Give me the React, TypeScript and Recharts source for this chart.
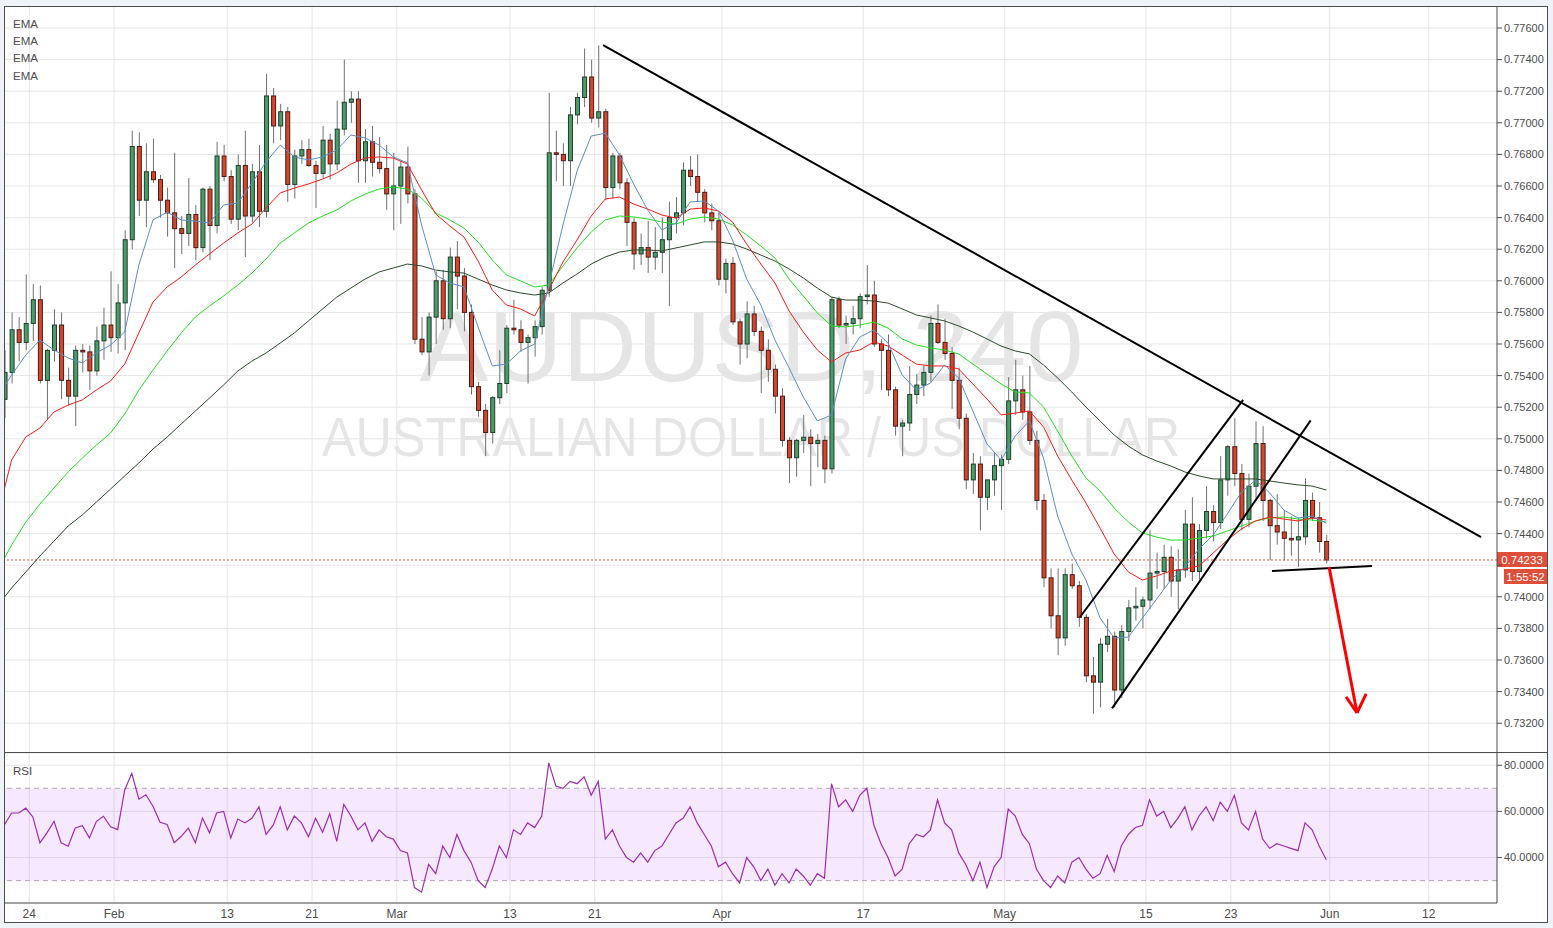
import React from 'react';
import { ComposedChart, Bar, Line, XAxis, YAxis, CartesianGrid, ReferenceLine, ReferenceArea } from 'recharts';

const FONT = '"Liberation Sans", Arial, Helvetica, sans-serif';

// 12h candles [open, high, low, close]; time in trading days from Jan 24
const firstCandleDay = -1.75;
const candleStep = 0.5;

const candlesJan: number[][] = [
  [0.7525, 0.7556, 0.7513, 0.7542], [0.7542, 0.7580, 0.7535, 0.7569], [0.7569, 0.7577, 0.7549, 0.7561], [0.7561, 0.7604, 0.7556, 0.7573],
  [0.7573, 0.7598, 0.7562, 0.7588], [0.7588, 0.7597, 0.7535, 0.7537], [0.7537, 0.7557, 0.7512, 0.7556], [0.7556, 0.7582, 0.7549, 0.7572],
  [0.7572, 0.7580, 0.7525, 0.7537], [0.7537, 0.7545, 0.7521, 0.7527], [0.7527, 0.7559, 0.7508, 0.7556], [0.7556, 0.7560, 0.7542, 0.7555],
  [0.7555, 0.7559, 0.7531, 0.7543], [0.7543, 0.7571, 0.7540, 0.7562], [0.7562, 0.7583, 0.7550, 0.7572], [0.7572, 0.7606, 0.7555, 0.7564],
];
const candlesFeb: number[][] = [
  [0.7564, 0.7598, 0.7554, 0.7586], [0.7586, 0.7632, 0.7556, 0.7626], [0.7626, 0.7695, 0.7620, 0.7685], [0.7685, 0.7694, 0.7641, 0.7651],
  [0.7651, 0.7687, 0.7634, 0.7669], [0.7669, 0.7690, 0.7662, 0.7664], [0.7664, 0.7667, 0.7640, 0.7651], [0.7651, 0.7659, 0.7628, 0.7643],
  [0.7643, 0.7681, 0.7608, 0.7633], [0.7633, 0.7641, 0.7617, 0.7630], [0.7630, 0.7665, 0.7622, 0.7642], [0.7642, 0.7648, 0.7613, 0.7621],
  [0.7621, 0.7659, 0.7618, 0.7658], [0.7658, 0.7660, 0.7613, 0.7635], [0.7635, 0.7688, 0.7630, 0.7679], [0.7679, 0.7686, 0.7663, 0.7666],
  [0.7666, 0.7670, 0.7636, 0.7639], [0.7639, 0.7680, 0.7632, 0.7673], [0.7673, 0.7695, 0.7615, 0.7641], [0.7641, 0.7674, 0.7637, 0.7669],
  [0.7669, 0.7686, 0.7634, 0.7644], [0.7644, 0.7731, 0.7640, 0.7717], [0.7717, 0.7722, 0.7687, 0.7698], [0.7698, 0.7712, 0.7689, 0.7707],
  [0.7707, 0.7710, 0.7650, 0.7661], [0.7661, 0.7683, 0.7652, 0.7679], [0.7679, 0.7689, 0.7674, 0.7683], [0.7683, 0.7690, 0.7672, 0.7673],
  [0.7673, 0.7676, 0.7646, 0.7668], [0.7668, 0.7698, 0.7665, 0.7689], [0.7689, 0.7693, 0.7664, 0.7674], [0.7674, 0.7714, 0.7670, 0.7696],
  [0.7696, 0.7740, 0.7692, 0.7713], [0.7713, 0.7720, 0.7700, 0.7715], [0.7715, 0.7720, 0.7662, 0.7676], [0.7676, 0.7696, 0.7662, 0.7688],
  [0.7688, 0.7698, 0.7666, 0.7675], [0.7675, 0.7691, 0.7668, 0.7671], [0.7671, 0.7686, 0.7645, 0.7655], [0.7655, 0.7681, 0.7632, 0.7660],
];
const candlesMar: number[][] = [
  [0.7660, 0.7676, 0.7636, 0.7672], [0.7672, 0.7685, 0.7649, 0.7655], [0.7655, 0.7658, 0.7560, 0.7563], [0.7563, 0.7577, 0.7553, 0.7555],
  [0.7555, 0.7580, 0.7540, 0.7577], [0.7577, 0.7606, 0.7560, 0.7600], [0.7600, 0.7607, 0.7569, 0.7576], [0.7576, 0.7621, 0.7570, 0.7615],
  [0.7615, 0.7625, 0.7582, 0.7603], [0.7603, 0.7608, 0.7568, 0.7580], [0.7580, 0.7585, 0.7528, 0.7533], [0.7533, 0.7536, 0.7514, 0.7518],
  [0.7518, 0.7522, 0.7489, 0.7504], [0.7504, 0.7527, 0.7497, 0.7526], [0.7526, 0.7556, 0.7522, 0.7535], [0.7535, 0.7572, 0.7529, 0.7570],
  [0.7570, 0.7588, 0.7566, 0.7569], [0.7569, 0.7575, 0.7555, 0.7561], [0.7561, 0.7566, 0.7535, 0.7564], [0.7564, 0.7575, 0.7552, 0.7571],
  [0.7571, 0.7596, 0.7566, 0.7594], [0.7594, 0.7719, 0.7590, 0.7681], [0.7681, 0.7695, 0.7663, 0.7680], [0.7680, 0.7687, 0.7660, 0.7676],
  [0.7676, 0.7710, 0.7660, 0.7705], [0.7705, 0.7719, 0.7699, 0.7716], [0.7716, 0.7747, 0.7710, 0.7729], [0.7729, 0.7740, 0.7700, 0.7703],
  [0.7703, 0.7749, 0.7697, 0.7707], [0.7707, 0.7709, 0.7651, 0.7659], [0.7659, 0.7681, 0.7652, 0.7679], [0.7679, 0.7681, 0.7658, 0.7662],
  [0.7662, 0.7665, 0.7622, 0.7637], [0.7637, 0.7640, 0.7607, 0.7617], [0.7617, 0.7630, 0.7610, 0.7621], [0.7621, 0.7638, 0.7605, 0.7615],
  [0.7615, 0.7634, 0.7607, 0.7618], [0.7618, 0.7640, 0.7605, 0.7626], [0.7626, 0.7650, 0.7584, 0.7640], [0.7640, 0.7653, 0.7630, 0.7643],
  [0.7643, 0.7675, 0.7635, 0.7670], [0.7670, 0.7679, 0.7660, 0.7666], [0.7666, 0.7680, 0.7650, 0.7656], [0.7656, 0.7658, 0.7637, 0.7643],
  [0.7643, 0.7649, 0.7632, 0.7638], [0.7638, 0.7643, 0.7597, 0.7601],
];
const candlesApr: number[][] = [
  [0.7601, 0.7614, 0.7592, 0.7611], [0.7611, 0.7615, 0.7572, 0.7574], [0.7574, 0.7576, 0.7547, 0.7560], [0.7560, 0.7587, 0.7551, 0.7579],
  [0.7579, 0.7584, 0.7565, 0.7568], [0.7568, 0.7571, 0.7529, 0.7556], [0.7556, 0.7563, 0.7536, 0.7544], [0.7544, 0.7547, 0.7516, 0.7527],
  [0.7527, 0.7532, 0.7495, 0.7499], [0.7499, 0.7501, 0.7472, 0.7488], [0.7488, 0.7500, 0.7476, 0.7499], [0.7499, 0.7515, 0.7491, 0.7501],
  [0.7501, 0.7506, 0.7470, 0.7497], [0.7497, 0.7503, 0.7482, 0.7499], [0.7499, 0.7502, 0.7472, 0.7481], [0.7481, 0.7590, 0.7478, 0.7588],
  [0.7588, 0.7590, 0.7570, 0.7572], [0.7572, 0.7578, 0.7560, 0.7573], [0.7573, 0.7584, 0.7566, 0.7576], [0.7576, 0.7592, 0.7570, 0.7590],
  [0.7590, 0.7610, 0.7585, 0.7591], [0.7591, 0.7600, 0.7558, 0.7560], [0.7560, 0.7563, 0.7531, 0.7556], [0.7556, 0.7566, 0.7527, 0.7531],
  [0.7531, 0.7533, 0.7502, 0.7508], [0.7508, 0.7512, 0.7489, 0.7510], [0.7510, 0.7546, 0.7505, 0.7528], [0.7528, 0.7541, 0.7522, 0.7534],
  [0.7534, 0.7546, 0.7527, 0.7542], [0.7542, 0.7578, 0.7536, 0.7573], [0.7573, 0.7585, 0.7560, 0.7561], [0.7561, 0.7576, 0.7550, 0.7554],
  [0.7554, 0.7558, 0.7519, 0.7537], [0.7537, 0.7545, 0.7506, 0.7513], [0.7513, 0.7516, 0.7468, 0.7474], [0.7474, 0.7491, 0.7465, 0.7484],
  [0.7484, 0.7489, 0.7442, 0.7463], [0.7463, 0.7473, 0.7455, 0.7474], [0.7474, 0.7491, 0.7464, 0.7483], [0.7483, 0.7490, 0.7455, 0.7487],
];
const candlesMay: number[][] = [
  [0.7487, 0.7539, 0.7484, 0.7524], [0.7524, 0.7550, 0.7515, 0.7531], [0.7531, 0.7540, 0.7512, 0.7517], [0.7517, 0.7546, 0.7496, 0.7499],
  [0.7499, 0.7505, 0.7455, 0.7461], [0.7461, 0.7465, 0.7406, 0.7412], [0.7412, 0.7418, 0.7380, 0.7388], [0.7388, 0.7418, 0.7363, 0.7374],
  [0.7374, 0.7418, 0.7369, 0.7414], [0.7414, 0.7421, 0.7405, 0.7407], [0.7407, 0.7410, 0.7381, 0.7387], [0.7387, 0.7389, 0.7346, 0.7350],
  [0.7350, 0.7362, 0.7326, 0.7346], [0.7346, 0.7374, 0.7330, 0.7370], [0.7370, 0.7386, 0.7365, 0.7375], [0.7375, 0.7378, 0.7330, 0.7341],
  [0.7341, 0.7382, 0.7336, 0.7378], [0.7378, 0.7398, 0.7372, 0.7393], [0.7393, 0.7406, 0.7385, 0.7394], [0.7394, 0.7400, 0.7380, 0.7398],
  [0.7398, 0.7442, 0.7392, 0.7415], [0.7415, 0.7428, 0.7405, 0.7416], [0.7416, 0.7433, 0.7405, 0.7425], [0.7425, 0.7432, 0.7400, 0.7410],
  [0.7410, 0.7430, 0.7392, 0.7417], [0.7417, 0.7455, 0.7412, 0.7446], [0.7446, 0.7463, 0.7410, 0.7416], [0.7416, 0.7446, 0.7411, 0.7442],
  [0.7442, 0.7470, 0.7437, 0.7454], [0.7454, 0.7458, 0.7435, 0.7447], [0.7447, 0.7489, 0.7443, 0.7474], [0.7474, 0.7496, 0.7464, 0.7495],
  [0.7495, 0.7513, 0.7470, 0.7478], [0.7478, 0.7484, 0.7442, 0.7449], [0.7449, 0.7478, 0.7444, 0.7470], [0.7470, 0.7511, 0.7462, 0.7497],
  [0.7497, 0.7508, 0.7448, 0.7461], [0.7461, 0.7462, 0.7423, 0.7445], [0.7445, 0.7465, 0.7433, 0.7441], [0.7441, 0.7455, 0.7423, 0.7437],
  [0.7437, 0.7451, 0.7426, 0.7436], [0.7436, 0.7450, 0.7419, 0.7438], [0.7438, 0.7475, 0.7433, 0.7461], [0.7461, 0.7466, 0.7448, 0.7450],
  [0.7450, 0.7460, 0.7428, 0.7435], [0.7435, 0.7439, 0.7421, 0.74233],
];

// RSI per candle
const rsiJan = [54.3, 59.3, 59.3, 61.4, 57.6, 46.4, 50.7, 55.7, 46.4, 44.9, 52.8, 53.8, 48.5, 55.7, 57.9, 53.3];
const rsiFeb = [52.1, 69.3, 76.5, 65.3, 67.2, 62.2, 55.3, 54.3, 46.4, 49.2, 52.8, 46.4, 57.1, 50.7, 59.3, 60.0, 48.5, 56.7, 55.0, 57,
  62, 50, 54, 62, 52, 58, 55, 49, 57, 51, 59, 47, 63, 58, 52, 55, 47, 52, 49, 48];
const rsiMar = [43, 42, 27, 25, 37, 33, 45, 40, 50, 43, 38, 30, 27, 35, 45, 40, 52, 50, 55, 53, 58, 81, 71, 70, 73, 72, 75, 67, 73, 48,
  52, 45, 40, 38, 42, 38, 43, 45, 50, 55, 57, 62, 55, 50, 45, 36];
const rsiApr = [38, 33, 29, 40, 36, 30, 35, 28, 33, 29, 35, 32, 28, 33, 31, 72, 62, 65, 60, 67, 70, 54, 46, 40, 32, 35, 46, 50, 49, 52,
  65, 55, 52, 42, 37, 30, 38, 27, 36, 40];
const rsiMay = [61, 58, 50, 46, 35, 30, 27, 32, 29, 38, 40, 35, 31, 33, 41, 34, 45, 50, 53, 54, 65, 58, 60, 53, 57, 62, 52, 58, 62, 56,
  64, 60, 67, 55, 52, 60, 48, 44, 46, 45, 44, 43, 55, 52, 45, 39];

// EMA samples: first candle, then every second candle (1,3,5,...)
const emaBlue = [
  0.75334, 0.75404, 0.75530, 0.75625, 0.75562, 0.75511, 0.75480, 0.75543, 0.75594, 0.75676,
  0.76100, 0.76385, 0.76435, 0.76385, 0.76378, 0.76366, 0.76480, 0.76492, 0.76619, 0.76752,
  0.76859, 0.76784, 0.76765, 0.76784, 0.76828, 0.76923, 0.76904, 0.76859, 0.76784, 0.76746,
  0.76353, 0.76037, 0.75986, 0.75961, 0.75708, 0.75461, 0.75473, 0.75556, 0.75600, 0.75973,
  0.76353, 0.76695, 0.76916, 0.76935, 0.76796, 0.76613, 0.76448, 0.76322, 0.76366, 0.76499,
  0.76505, 0.76442, 0.76258, 0.76011, 0.75847, 0.75625, 0.75448, 0.75265, 0.75113, 0.75151,
  0.75505, 0.75644, 0.75689, 0.75606, 0.75404, 0.75309, 0.75353, 0.75467, 0.75385, 0.75176,
  0.74967, 0.74866, 0.75018, 0.75113, 0.74878, 0.74511, 0.74271, 0.74106, 0.73866, 0.73739,
  0.73745, 0.73866, 0.73986, 0.74106, 0.74189, 0.74303, 0.74391, 0.74524, 0.74663, 0.74739,
  0.74657, 0.74549, 0.74499, 0.74511, 0.74467,
];
const emaRed = [
  0.74689, 0.74866, 0.75011, 0.75068, 0.75170, 0.75214, 0.75246, 0.75309, 0.75366, 0.75473,
  0.75670, 0.75866, 0.75961, 0.76024, 0.76100, 0.76170, 0.76239, 0.76303, 0.76359, 0.76461,
  0.76556, 0.76587, 0.76613, 0.76644, 0.76682, 0.76739, 0.76777, 0.76784, 0.76777, 0.76739,
  0.76575, 0.76423, 0.76347, 0.76277, 0.76125, 0.75942, 0.75847, 0.75822, 0.75777, 0.75942,
  0.76119, 0.76258, 0.76410, 0.76518, 0.76530, 0.76486, 0.76454, 0.76416, 0.76397, 0.76454,
  0.76461, 0.76442, 0.76372, 0.76233, 0.76106, 0.75986, 0.75809, 0.75676, 0.75562, 0.75486,
  0.75543, 0.75562, 0.75613, 0.75587, 0.75530, 0.75473, 0.75461, 0.75461, 0.75442, 0.75347,
  0.75252, 0.75151, 0.75163, 0.75176, 0.75075, 0.74891, 0.74739, 0.74594, 0.74435, 0.74271,
  0.74157, 0.74106, 0.74132, 0.74163, 0.74176, 0.74195, 0.74277, 0.74359, 0.74429, 0.74480,
  0.74505, 0.74492, 0.74480, 0.74499, 0.74486,
];
const emaGreen = [
  0.74246, 0.74328, 0.74473, 0.74587, 0.74689, 0.74790, 0.74878, 0.74961, 0.75037, 0.75157,
  0.75309, 0.75435, 0.75556, 0.75670, 0.75771, 0.75841, 0.75904, 0.75973, 0.76049, 0.76138,
  0.76239, 0.76303, 0.76366, 0.76410, 0.76448, 0.76505, 0.76549, 0.76581, 0.76594, 0.76581,
  0.76524, 0.76429, 0.76385, 0.76334, 0.76246, 0.76132, 0.76037, 0.75999, 0.75961, 0.75973,
  0.76094, 0.76208, 0.76309, 0.76385, 0.76410, 0.76404, 0.76391, 0.76372, 0.76359, 0.76391,
  0.76404, 0.76391, 0.76353, 0.76290, 0.76220, 0.76144, 0.76011, 0.75904, 0.75796, 0.75714,
  0.75708, 0.75720, 0.75739, 0.75701, 0.75632, 0.75594, 0.75575, 0.75562, 0.75537, 0.75473,
  0.75410, 0.75347, 0.75296, 0.75290, 0.75201, 0.75049, 0.74891, 0.74752, 0.74670, 0.74562,
  0.74473, 0.74404, 0.74378, 0.74359, 0.74359, 0.74372, 0.74385, 0.74416, 0.74448, 0.74480,
  0.74499, 0.74505, 0.74492, 0.74486, 0.74473,
];
const emaDark = [
  0.73999, 0.74056, 0.74157, 0.74258, 0.74353, 0.74448, 0.74518, 0.74600, 0.74682, 0.74765,
  0.74847, 0.74935, 0.75011, 0.75094, 0.75176, 0.75258, 0.75341, 0.75429, 0.75492, 0.75543,
  0.75606, 0.75670, 0.75746, 0.75822, 0.75897, 0.75954, 0.76011, 0.76056, 0.76081, 0.76106,
  0.76094, 0.76068, 0.76056, 0.76049, 0.76011, 0.75973, 0.75942, 0.75923, 0.75910, 0.75923,
  0.75986, 0.76043, 0.76106, 0.76151, 0.76182, 0.76195, 0.76195, 0.76189, 0.76208, 0.76227,
  0.76246, 0.76246, 0.76233, 0.76201, 0.76163, 0.76125, 0.76075, 0.76018, 0.75954, 0.75897,
  0.75878, 0.75878, 0.75872, 0.75859, 0.75822, 0.75784, 0.75765, 0.75746, 0.75714, 0.75676,
  0.75632, 0.75587, 0.75556, 0.75537, 0.75467, 0.75385, 0.75296, 0.75201, 0.75113, 0.75024,
  0.74954, 0.74898, 0.74860, 0.74828, 0.74790, 0.74765, 0.74746, 0.74746, 0.74746, 0.74746,
  0.74733, 0.74720, 0.74708, 0.74701, 0.74676,
];

const dateTickDays = [0, 6, 14, 20, 26, 34, 40, 49, 59, 69, 79, 85, 92, 99];
const dateTickLabels = ['24', 'Feb', '13', '21', 'Mar', '13', '21', 'Apr', '17', 'May', '15', '23', 'Jun', '12'];
const priceTicks = [0.732, 0.734, 0.736, 0.738, 0.74, 0.742, 0.744, 0.746, 0.748, 0.75, 0.752, 0.754, 0.756, 0.758, 0.76, 0.762, 0.764, 0.766, 0.768, 0.77, 0.772, 0.774, 0.776];
const rsiTicks = [40, 60, 80];
const lastPrice = 0.74233;
const countdown = '1:55:52';
const xDomain = [-1.79, 103.83];
const priceDomain = [0.730114, 0.777392];
const rsiDomain = [20.3, 85.3];

const trendLines = [
  [{ x: 40.59, y: 0.77492 }, { x: 102.7, y: 0.74378 }],
  [{ x: 74.33, y: 0.73872 }, { x: 85.87, y: 0.75246 }],
  [{ x: 76.6, y: 0.73294 }, { x: 90.65, y: 0.75117 }],
  [{ x: 87.91, y: 0.74163 }, { x: 94.99, y: 0.74195 }],
];
const arrowLines = [
  [{ x: 91.95, y: 0.74189 }, { x: 93.93, y: 0.73265 }],
  [{ x: 93.15, y: 0.73366 }, { x: 93.93, y: 0.73265 }],
  [{ x: 94.57, y: 0.73385 }, { x: 93.93, y: 0.73265 }],
];

const allCandles = [...candlesJan, ...candlesFeb, ...candlesMar, ...candlesApr, ...candlesMay];
const allRsi = [...rsiJan, ...rsiFeb, ...rsiMar, ...rsiApr, ...rsiMay];

const rows = allCandles.map((c, i) => {
  const j = i === 0 ? 0 : i % 2 === 1 ? (i + 1) / 2 : -1;
  return {
    x: firstCandleDay + i * candleStep,
    open: c[0], high: c[1], low: c[2], close: c[3],
    range: [c[2], c[1]],
    rsi: allRsi[i],
    blue: j >= 0 ? emaBlue[j] : null,
    red: j >= 0 ? emaRed[j] : null,
    green: j >= 0 ? emaGreen[j] : null,
    dark: j >= 0 ? emaDark[j] : null,
  };
});

const Candle = (props: any) => {
  const { x, y, width, height, payload } = props;
  if (x == null || y == null || !payload) return null;
  const top0 = Math.min(y, y + height);
  const h = Math.abs(height);
  const { open, close, high, low } = payload;
  const span = high - low || 1e-9;
  const toY = (v: number) => top0 + ((high - v) / span) * h;
  const up = close >= open;
  const bt = toY(Math.max(open, close));
  const bb = toY(Math.min(open, close));
  const cx = x + width / 2;
  return (
    <g>
      <line x1={cx} x2={cx} y1={top0} y2={top0 + h} stroke="#707070" strokeWidth={1} />
      <rect x={x} y={bt} width={width} height={Math.max(1, bb - bt)} fill={up ? '#4b9b6b' : '#d4472f'} stroke={up ? '#1f3d2a' : '#4a1a12'} strokeWidth={1} />
    </g>
  );
};

const PriceTag = (props: any) => {
  const vb = props.viewBox || {};
  const right = (vb.x || 0) + (vb.width || 0);
  const yy = vb.y || 0;
  return (
    <g>
      <rect x={right} y={yy - 8} width={50} height={15} fill="#df4e38" />
      <text x={right + 25} y={yy + 4} textAnchor="middle" fontSize={11.5} fill="#fff" fontFamily={FONT}>{lastPrice.toFixed(5)}</text>
      <rect x={right + 7} y={yy + 9} width={43} height={15} fill="#df4e38" />
      <text x={right + 28.5} y={yy + 21} textAnchor="middle" fontSize={11.5} fill="#fff" fontFamily={FONT}>{countdown}</text>
    </g>
  );
};

const line = (l: number, t: number, w: number, h: number) => (
  <div style={{ position: 'absolute', left: l, top: t, width: w, height: h, background: '#4e4e4e' }} />
);

export default function App() {
  return (
    <div style={{ position: 'absolute', left: 0, top: 0, width: 1553, height: 928, background: '#eff2f6', overflow: 'hidden', fontFamily: FONT }}>
      <div style={{ position: 'absolute', left: 4, top: 6, width: 1544, height: 917, background: '#ffffff' }} />
      <svg width={1553} height={928} style={{ position: 'absolute', left: 0, top: 0 }}>
        <text x={751.5} y={381} textAnchor="middle" fontSize={100} textLength={664} lengthAdjust="spacingAndGlyphs" fill="#000" fillOpacity={0.1} fontFamily={FONT}>AUDUSD, 240</text>
        <text x={751} y={456} textAnchor="middle" fontSize={56} textLength={858} lengthAdjust="spacingAndGlyphs" fill="#000" fillOpacity={0.1} fontFamily={FONT}>AUSTRALIAN DOLLAR / US DOLLAR</text>
      </svg>
      <div style={{ position: 'absolute', left: 4, top: 6 }}>
        <ComposedChart width={1543} height={747} data={rows} margin={{ top: 0, right: 0, bottom: 0, left: 0 }}>
          <CartesianGrid vertical={false} stroke="#e6e6e6" />
          {dateTickDays.map((d) => (
            <ReferenceLine key={'v' + d} x={d} stroke="#e6e6e6" />
          ))}
          <XAxis type="number" dataKey="x" domain={xDomain} hide allowDataOverflow />
          <YAxis
            orientation="right"
            width={50}
            domain={priceDomain}
            ticks={priceTicks}
            interval={0}
            allowDataOverflow
            tickFormatter={(v: number) => (Math.abs(v - 0.742) < 1e-6 ? '' : v.toFixed(5))}
            tick={{ fontSize: 11, fill: '#4d4d4d', fontFamily: FONT }}
            tickSize={5}
            tickMargin={2}
            stroke="#4e4e4e"
          />
          <ReferenceLine y={lastPrice} stroke="#df4e38" strokeDasharray="2 2" label={(p: any) => <PriceTag {...p} />} />
          <Bar dataKey="range" barSize={4} shape={<Candle />} isAnimationActive={false} />
          <Line dataKey="dark" stroke="#2c4a2c" strokeWidth={1} dot={false} connectNulls isAnimationActive={false} />
          <Line dataKey="green" stroke="#22e022" strokeWidth={1} dot={false} connectNulls isAnimationActive={false} />
          <Line dataKey="red" stroke="#ff1a1a" strokeWidth={1} dot={false} connectNulls isAnimationActive={false} />
          <Line dataKey="blue" stroke="#5b8fc6" strokeWidth={1} dot={false} connectNulls isAnimationActive={false} />
          {trendLines.map((s, i) => (
            <ReferenceLine key={'t' + i} segment={s} stroke="#000" strokeWidth={2} />
          ))}
          {arrowLines.map((s, i) => (
            <ReferenceLine key={'a' + i} segment={s} stroke="#ff0000" strokeWidth={3} />
          ))}
        </ComposedChart>
      </div>
      <div style={{ position: 'absolute', left: 4, top: 753 }}>
        <ComposedChart width={1543} height={169} data={rows} margin={{ top: 0, right: 0, bottom: 0, left: 0 }}>
          <ReferenceArea y1={30} y2={70} fill="#9900ff" fillOpacity={0.09} stroke="none" />
          <CartesianGrid stroke="#e6e6e6" />
          <XAxis
            type="number"
            dataKey="x"
            domain={xDomain}
            allowDataOverflow
            ticks={dateTickDays}
            interval={0}
            height={19}
            tickFormatter={(v: number) => dateTickLabels[dateTickDays.indexOf(v)] ?? ''}
            tick={{ fontSize: 12, fill: '#4d4d4d', fontFamily: FONT }}
            tickLine={false}
            tickSize={0}
            tickMargin={6}
            stroke="#4e4e4e"
          />
          <YAxis
            orientation="right"
            width={50}
            domain={rsiDomain}
            ticks={rsiTicks}
            interval={0}
            allowDataOverflow
            tickFormatter={(v: number) => v.toFixed(4)}
            tick={{ fontSize: 11, fill: '#4d4d4d', fontFamily: FONT }}
            tickSize={5}
            tickMargin={2}
            stroke="#4e4e4e"
          />
          <ReferenceLine y={70} stroke="#b3a5bb" strokeDasharray="5 4" />
          <ReferenceLine y={30} stroke="#b3a5bb" strokeDasharray="5 4" />
          <Line dataKey="rsi" stroke="#9c2fb0" strokeWidth={1.2} dot={false} isAnimationActive={false} />
        </ComposedChart>
      </div>
      <svg width={1553} height={928} style={{ position: 'absolute', left: 0, top: 0, pointerEvents: 'none' }}>
        {['EMA', 'EMA', 'EMA', 'EMA'].map((t, i) => (
          <text key={i} x={13} y={28 + i * 17.2} fontSize={11.5} fill="#4d4d4d" fontFamily={FONT}>{t}</text>
        ))}
        <text x={13} y={775} fontSize={11.5} fill="#4d4d4d" fontFamily={FONT}>RSI</text>
      </svg>
      {line(4, 6, 1544, 1)}
      {line(4, 6, 1, 917)}
      {line(1547, 6, 1, 917)}
      {line(4, 922, 1544, 1)}
      {line(4, 752, 1544, 1)}
    </div>
  );
}
